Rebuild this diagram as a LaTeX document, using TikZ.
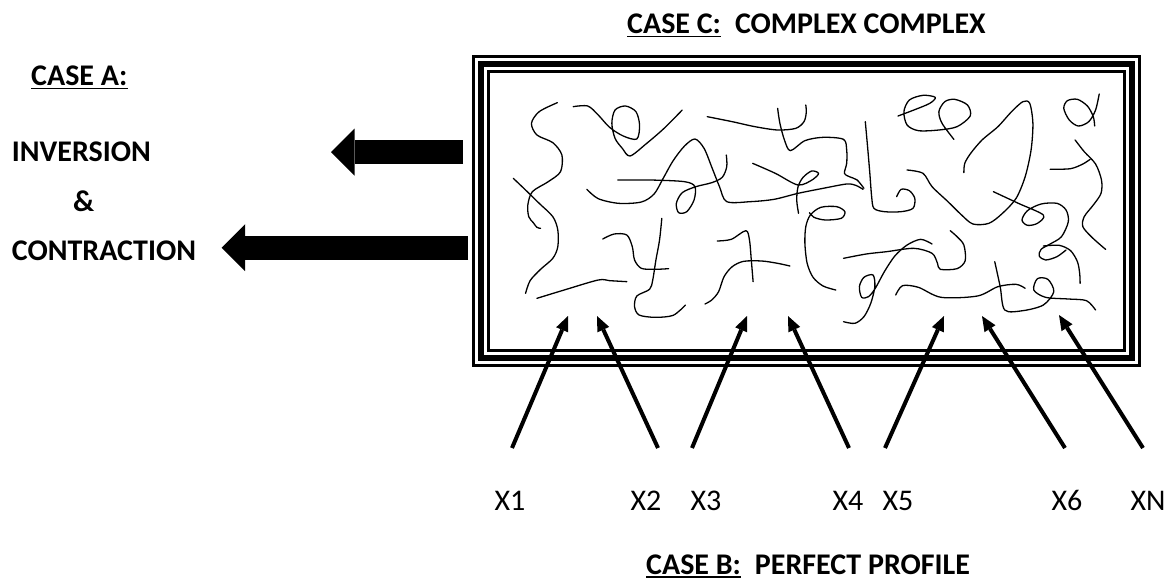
\documentclass[tikz,border=0pt]{standalone}
\usepackage{fontspec}
\setmainfont{Carlito}
\usetikzlibrary{arrows.meta}
\tikzset{
  lbl/.style={inner sep=0pt, anchor=base west, font=\fontsize{30}{36}\selectfont\bfseries},
  xlbl/.style={inner sep=0pt, anchor=base, font=\fontsize{30}{36}\selectfont},
  uline/.style={line width=1.6pt},
  blockarrow/.style={line width=24pt, -{Triangle[length=23.5pt,width=47pt,line width=0pt]}},
  ptrarrow/.style={line width=4pt, -{Triangle[length=15pt,width=13pt,line width=0pt]}},
  scrib/.style={line width=1.3pt, line cap=round, line join=round},
}
\begin{document}
\begin{tikzpicture}[x=1pt,y=-1pt]
\useasboundingbox (0,0) rectangle (1171,582);
\fill[white] (0,0) rectangle (1171,582);

% titles and labels
\node[lbl] (casec) at (627,33) {CASE C:};
\node[lbl] (casect) at ([xshift=13.6pt]casec.base east) {COMPLEX COMPLEX};
\draw[uline] ([yshift=-3.5pt]casec.base west) -- ([yshift=-3.5pt]casec.base east);
\node[lbl] (casea) at (31,85) {CASE A:};
\draw[uline] ([yshift=-3.5pt]casea.base west) -- ([yshift=-3.5pt]casea.base east);
\node[lbl] (inv) at (11.7,161.7) {INVERSION};
\node[lbl] (amp) at (73,211.7) {\&};
\node[lbl] (con) at (11.7,260) {CONTRACTION};
\node[lbl] (caseb) at (646,574) {CASE B:};
\node[lbl] (casebt) at ([xshift=13.6pt]caseb.base east) {PERFECT PROFILE};
\draw[uline] ([yshift=-3.2pt]caseb.base west) -- ([yshift=-3.2pt]caseb.base east);

% the box with triple frame
\node[inner sep=0pt, minimum width=669pt, minimum height=312pt] (box) at (806.5,211) {};
\foreach \d/\w in {1.75/3.5, 9.5/6, 16.75/2.5}
  \draw[line width=\w pt] ([shift={(\d,\d)}]box.north west) rectangle ([shift={(-\d,-\d)}]box.south east);

% block arrows to the left
\coordinate (a1s) at (463,152);
\coordinate (a1e) at (331,152);
\coordinate (a2s) at (468,247.7);
\coordinate (a2e) at (221.7,247.7);
\draw[blockarrow] (a1s) -- (a1e);
\draw[blockarrow] (a2s) -- (a2e);

% X labels
\node[xlbl] (x1) at (510,510) {X1};
\node[xlbl] (x2) at (646,510) {X2};
\node[xlbl] (x3) at (706,510) {X3};
\node[xlbl] (x4) at (848,510) {X4};
\node[xlbl] (x5) at (898,510) {X5};
\node[xlbl] (x6) at (1067,510) {X6};
\node[xlbl] (xn) at (1148,510) {XN};

% pointer arrows
\coordinate (t1) at (512,448);  \coordinate (h1) at (568,316);
\coordinate (t2) at (658,448);  \coordinate (h2) at (597,316);
\coordinate (t3) at (692,448);  \coordinate (h3) at (747,316);
\coordinate (t4) at (849,448);  \coordinate (h4) at (788,316);
\coordinate (t5) at (885,448);  \coordinate (h5) at (944,316);
\coordinate (t6) at (1065,448); \coordinate (h6) at (982,316);
\coordinate (t7) at (1143,448); \coordinate (h7) at (1059,315);
\foreach \i in {1,...,7} \draw[ptrarrow] (t\i) -- (h\i);

% scribbles
\begin{scope}[shift={(459.7,40)}, x=0.4542pt, y=-0.33333pt, scrib]
\draw plot[smooth] coordinates {(215,188) (175,215) (158,250) (170,285) (205,308) (225,345) (222,395) (195,425) (160,455) (150,495) (152,530) (162,548) (170,562) (178,565)};
\draw plot[smooth] coordinates {(118,415) (145,450) (175,490) (205,530) (216,570) (216,620) (205,655) (178,688) (155,722) (145,760)};
\draw plot[smooth] coordinates {(250,200) (282,198) (305,225) (330,262) (360,288) (390,297) (396,255) (388,215) (365,198) (342,210) (335,250) (342,295) (358,325) (375,348) (410,312) (450,265) (490,210)};
\draw plot[smooth] coordinates {(280,448) (305,476) (350,490) (400,486) (428,462) (448,415) (470,362) (495,318) (518,297) (538,325) (556,385) (572,440) (588,485) (640,485) (692,478) (745,460) (800,445) (852,432) (872,436) (888,448)};
\draw plot[smooth] coordinates {(348,420) (420,420) (495,425) (518,440) (516,480) (500,515) (482,518) (477,490) (490,458) (520,440) (555,428) (578,412) (588,380) (587,345)};
\draw plot[smooth] coordinates {(545,230) (600,245) (650,260) (700,270) (740,265) (758,245) (763,218) (762,195)};
\draw plot[smooth] coordinates {(700,205) (705,250) (715,300) (728,332) (760,302) (800,292) (845,298) (852,330) (852,370) (847,400) (858,410) (875,420) (890,445)};
\draw plot[smooth] coordinates {(645,370) (695,400) (745,435) (778,418) (790,400) (775,393) (756,412) (745,440) (742,480) (746,520)};
\draw plot[smooth] coordinates {(828,750) (800,738) (778,712) (765,670) (760,610) (762,560) (772,525) (795,502) (830,500) (848,515) (840,535) (805,540) (780,532) (770,518)};
\draw plot[smooth] coordinates {(893,245) (898,320) (903,400) (907,470) (912,505) (935,515) (972,515) (998,505) (1002,475) (990,452) (972,448) (962,470)};
\draw plot[smooth] coordinates {(965,228) (1000,210) (1035,190) (1047,172) (1020,166) (990,180) (978,215) (985,255) (1010,272) (1055,270) (1095,260) (1124,228) (1118,195) (1090,178) (1068,185) (1055,215) (1062,250) (1088,298)};
\draw plot[smooth] coordinates {(985,390) (1020,400) (1040,440) (1075,485) (1105,525) (1130,552) (1165,550) (1195,520) (1225,475) (1245,410) (1258,330) (1262,250) (1255,190) (1240,185) (1215,215) (1185,260) (1150,300) (1125,340) (1112,370) (1110,398)};
\draw plot[smooth] coordinates {(1408,162) (1400,210) (1385,245) (1362,258) (1342,240) (1330,205) (1338,182) (1360,178) (1382,198) (1395,230) (1398,258)};
\draw plot[smooth] coordinates {(1355,300) (1375,335) (1400,372) (1413,420) (1412,460) (1395,495) (1375,530) (1372,560) (1392,592) (1422,628)};
\draw plot[smooth] coordinates {(1300,388) (1345,386) (1372,372) (1388,358)};
\draw plot[smooth] coordinates {(1175,455) (1230,490) (1285,525) (1272,550) (1250,556) (1238,540) (1250,512) (1280,492) (1315,490) (1335,510) (1340,545) (1325,590) (1300,612) (1280,628) (1276,648) (1290,660) (1315,650) (1335,630)};
\draw plot[smooth] coordinates {(1285,618) (1320,616) (1345,632) (1360,665) (1365,700) (1366,730)};
\draw plot[smooth] coordinates {(315,597) (340,582) (368,585) (380,620) (385,660) (400,685) (430,688) (460,686)};
\draw plot[smooth] coordinates {(445,535) (440,600) (432,660) (425,720) (418,748) (390,768) (385,800) (395,825) (430,832) (470,826) (497,795)};
\draw plot[smooth] coordinates {(170,775) (230,750) (305,720) (330,722) (368,725)};
\draw plot[smooth] coordinates {(567,603) (598,598) (630,572) (638,600) (642,660) (646,725)};
\draw plot[smooth] coordinates {(540,792) (555,780) (570,755) (582,710) (600,680) (625,664) (665,663) (700,670) (727,678)};
\draw plot[smooth] coordinates {(845,655) (895,642) (940,635) (1000,625) (1040,640) (1052,670) (1058,688) (1095,686) (1113,662) (1110,615) (1095,590) (1080,572)};
\draw plot[smooth] coordinates {(1040,612) (1015,598) (985,615) (958,648) (935,695) (915,745) (900,770) (885,772) (880,740) (890,712) (910,705) (914,740) (905,790) (890,830) (870,850) (845,845)};
\draw plot[smooth] coordinates {(960,765) (975,737) (1010,742) (1060,772) (1140,768) (1185,740) (1225,733) (1245,745)};
\draw plot[smooth] coordinates {(1178,665) (1190,740) (1200,810) (1240,812) (1285,795) (1308,755) (1295,718) (1272,716) (1264,750) (1290,772) (1340,777) (1380,782) (1400,810)};
\end{scope}
\end{tikzpicture}
\end{document}
